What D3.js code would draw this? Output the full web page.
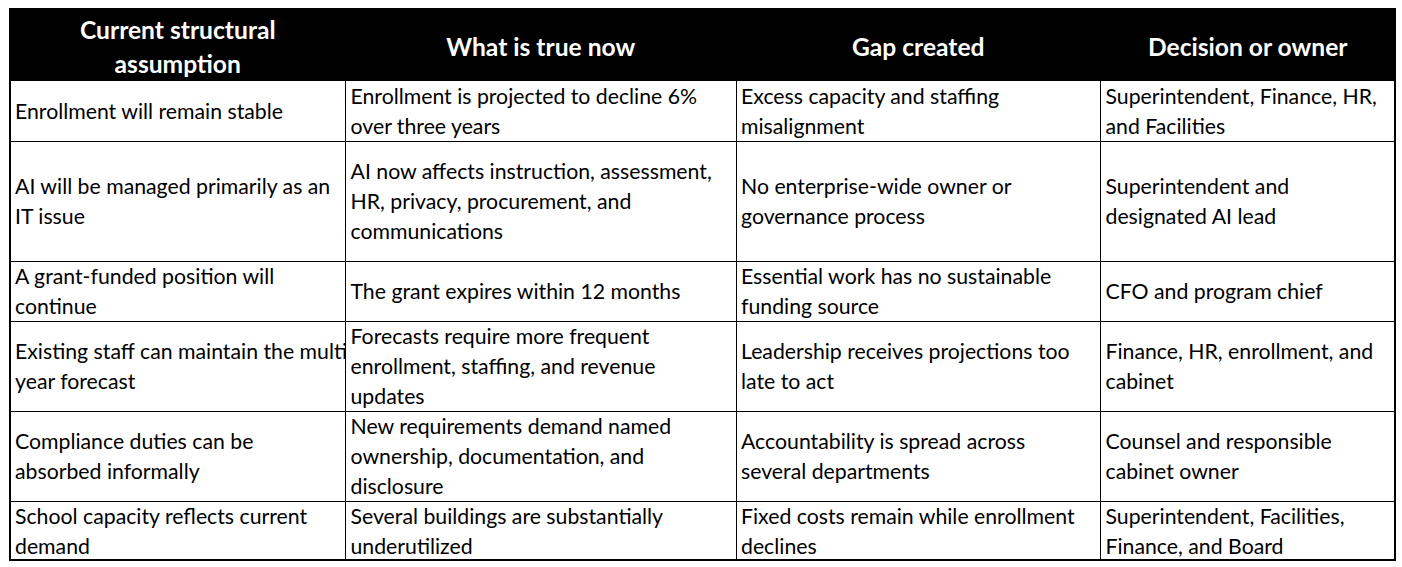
<!DOCTYPE html>
<html><head><meta charset="utf-8">
<script src="https://cdn.jsdelivr.net/npm/d3@7"></script>
<style>html,body{margin:0;padding:0;background:#fff;}</style>
</head><body>
<svg id="chart" width="1402" height="567"></svg>
<script>
const headers = [
  ["Current structural", "assumption"],
  ["What is true now"],
  ["Gap created"],
  ["Decision or owner"]
];
const colAssumption = [
  ["Enrollment will remain stable"],
  ["AI will be managed primarily as an", "IT issue"],
  ["A grant-funded position will", "continue"],
  ["Existing staff can maintain the multi-", "year forecast"],
  ["Compliance duties can be", "absorbed informally"],
  ["School capacity reflects current", "demand"]
];
const colTrue = [
  ["Enrollment is projected to decline 6%", "over three years"],
  ["AI now affects instruction, assessment,", "HR, privacy, procurement, and", "communications"],
  ["The grant expires within 12 months"],
  ["Forecasts require more frequent", "enrollment, staffing, and revenue", "updates"],
  ["New requirements demand named", "ownership, documentation, and", "disclosure"],
  ["Several buildings are substantially", "underutilized"]
];
const colGap = [
  ["Excess capacity and staffing", "misalignment"],
  ["No enterprise-wide owner or", "governance process"],
  ["Essential work has no sustainable", "funding source"],
  ["Leadership receives projections too", "late to act"],
  ["Accountability is spread across", "several departments"],
  ["Fixed costs remain while enrollment", "declines"]
];
const colOwner = [
  ["Superintendent, Finance, HR,", "and Facilities"],
  ["Superintendent and", "designated AI lead"],
  ["CFO and program chief"],
  ["Finance, HR, enrollment, and", "cabinet"],
  ["Counsel and responsible", "cabinet owner"],
  ["Superintendent, Facilities,", "Finance, and Board"]
];

// layout
const colEdges = [10, 345.5, 736, 1100.5, 1395];
const rowEdges = [9, 81, 141, 261, 321, 411, 501, 560];
const lineH = 30;
const fontFam = "Lato, 'Open Sans', sans-serif";

const svg = d3.select("#chart");
const columns = [colAssumption, colTrue, colGap, colOwner];
const rows = d3.range(colAssumption.length).map(i => columns.map(c => c[i]));

// fit body font size to reference width
const probe = svg.append("text").attr("font-family", fontFam).attr("font-size", 20).text("Enrollment will remain stable");
const bw = probe.node().getComputedTextLength();
probe.remove();
const bodySize = 20 * 268 / bw;
const probe2 = svg.append("text").attr("font-family", fontFam).attr("font-weight", "bold").attr("font-size", 22).text("What is true now");
const hw = probe2.node().getComputedTextLength();
probe2.remove();
const headSize = 22 * 189 / hw;

const defs = svg.append("defs");
const x = d3.scaleOrdinal().domain(d3.range(4)).range(colEdges.slice(0, 4));
const w = i => colEdges[i + 1] - colEdges[i];

// header background
svg.append("rect").attr("x", colEdges[0]).attr("y", rowEdges[0])
  .attr("width", colEdges[4] - colEdges[0]).attr("height", rowEdges[1] - rowEdges[0])
  .attr("fill", "#000");

// clip paths
d3.range(4).forEach(ci => {
  defs.append("clipPath").attr("id", "clip" + ci).append("rect")
    .attr("x", x(ci)).attr("y", 0).attr("width", w(ci)).attr("height", 567);
});

// header text
headers.forEach((lines, ci) => {
  const cy = (rowEdges[0] + rowEdges[1]) / 2 + 2;
  const t = svg.append("text").attr("font-family", fontFam).attr("font-weight", "bold")
    .attr("font-size", headSize).attr("fill", "#fff").attr("text-anchor", "middle");
  lines.forEach((ln, li) => {
    const yy = cy + (li - (lines.length - 1) / 2) * 34;
    t.append("tspan").attr("x", x(ci) + w(ci) / 2).attr("y", yy).attr("dy", "0.35em").text(ln);
  });
});

// body text
rows.forEach((row, ri) => {
  const cy = (rowEdges[ri + 1] + rowEdges[ri + 2]) / 2 + 1;
  row.forEach((lines, ci) => {
    const t = svg.append("text").attr("font-family", fontFam).attr("font-size", bodySize)
      .attr("fill", "#000").attr("clip-path", `url(#clip${ci})`);
    lines.forEach((ln, li) => {
      const yy = cy + (li - (lines.length - 1) / 2) * lineH;
      t.append("tspan").attr("x", x(ci) + 5).attr("y", yy).attr("dy", "0.35em").text(ln);
    });
  });
});

// grid lines
const g = svg.append("g").attr("stroke", "#000").attr("shape-rendering", "crispEdges");
rowEdges.slice(2, rowEdges.length - 1).forEach(y => {
  g.append("line").attr("x1", colEdges[0]).attr("x2", colEdges[4]).attr("y1", y).attr("y2", y).attr("stroke-width", 1);
});
colEdges.slice(1, 4).forEach(cx => {
  g.append("line").attr("x1", cx).attr("x2", cx).attr("y1", rowEdges[1]).attr("y2", rowEdges[rowEdges.length - 1]).attr("stroke-width", 1);
});
g.append("rect").attr("x", colEdges[0]).attr("y", rowEdges[0])
  .attr("width", colEdges[4] - colEdges[0]).attr("height", rowEdges[rowEdges.length - 1] - rowEdges[0])
  .attr("fill", "none").attr("stroke-width", 2);
</script>
</body></html>
